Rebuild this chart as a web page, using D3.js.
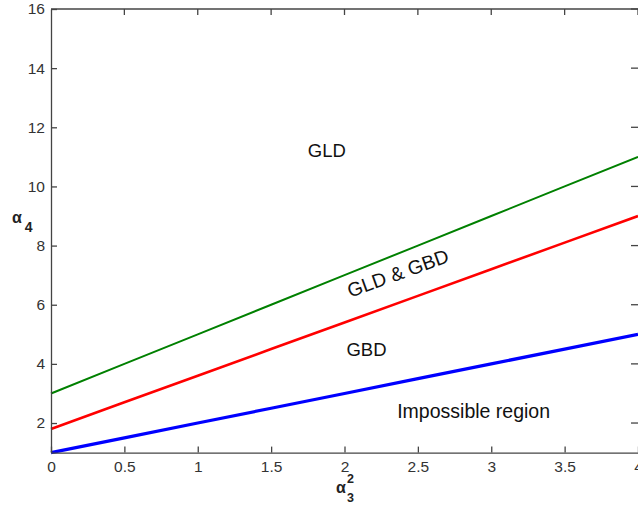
<!DOCTYPE html>
<html>
<head>
<meta charset="utf-8">
<script src="https://cdn.jsdelivr.net/npm/d3@7"></script>
<style>
  html, body { margin: 0; padding: 0; background: #fff; }
  svg { display: block; font-family: "Liberation Sans", Arial, Helvetica, sans-serif; }
</style>
</head>
<body>
<svg id="chart" width="638" height="511"></svg>
<script>
// Boundary curves in the (alpha3^2, alpha4) plane
const alpha3sq = [0, 0.5, 1, 1.5, 2, 2.5, 3, 3.5, 4];
const gldBound = [3, 4, 5, 6, 7, 8, 9, 10, 11];           // green
const gbdBound = [1.8, 2.7, 3.6, 4.5, 5.4, 6.3, 7.2, 8.1, 9]; // red
const limitBound = [1, 1.5, 2, 2.5, 3, 3.5, 4, 4.5, 5];   // blue

const xTicks = [0, 0.5, 1, 1.5, 2, 2.5, 3, 3.5, 4];
const xTickLabels = ["0", "0.5", "1", "1.5", "2", "2.5", "3", "3.5", "4"];
const yTicks = [2, 4, 6, 8, 10, 12, 14, 16];
const yTickLabels = ["2", "4", "6", "8", "10", "12", "14", "16"];

const regionNames = ["GLD", "GLD & GBD", "GBD", "Impossible region"];
const regionAt = [[1.88, 11.0], [2.38, 6.85], [2.15, 4.25], [2.88, 2.17]];

const svg = d3.select("#chart");
const plotLeft = 51, plotRight = 638, plotTop = 9, plotBottom = 452.6;

const x = d3.scaleLinear().domain([0, 4]).range([plotLeft, plotRight]);
const y = d3.scaleLinear().domain([1, 16]).range([plotBottom, plotTop]);

// Curves
const line = d3.line().x(d => x(d[0])).y(d => y(d[1]));
const series = [
  { vals: limitBound, color: "#0000ff", w: 3.2 },
  { vals: gbdBound, color: "#ff0000", w: 2.6 },
  { vals: gldBound, color: "#008000", w: 2.0 }
];
series.forEach(s => {
  svg.append("path")
    .datum(alpha3sq.map((a, i) => [a, s.vals[i]]))
    .attr("d", line)
    .attr("fill", "none")
    .attr("stroke", s.color)
    .attr("stroke-width", s.w);
});

// Axes box with inward ticks
const axisColor = "#444";
const xAxis = d3.axisBottom(x).tickValues(xTicks)
  .tickFormat((d, i) => xTickLabels[i]).tickSizeInner(-6).tickSizeOuter(0).tickPadding(8);
const yAxis = d3.axisLeft(y).tickValues(yTicks)
  .tickFormat((d, i) => yTickLabels[i]).tickSizeInner(-6).tickSizeOuter(0).tickPadding(6);

const gx = svg.append("g").attr("transform", `translate(0,${plotBottom})`).call(xAxis);
const gy = svg.append("g").attr("transform", `translate(${plotLeft},0)`).call(yAxis);
[gx, gy].forEach(g => {
  g.selectAll("path.domain").attr("stroke", axisColor).attr("stroke-width", 1.3);
  g.selectAll(".tick line").attr("stroke", axisColor).attr("stroke-width", 1.3);
  g.selectAll(".tick text").attr("fill", "#333").attr("font-size", 15.5)
    .attr("font-family", "'Liberation Sans', Arial, sans-serif");
});
// top and right box edges with mirrored ticks
svg.append("line").attr("x1", plotLeft).attr("x2", plotRight).attr("y1", plotTop).attr("y2", plotTop)
  .attr("stroke", axisColor).attr("stroke-width", 1.3);
svg.selectAll(".rtick").data(yTicks).enter().append("line")
  .attr("x1", plotRight - 7).attr("x2", plotRight).attr("y1", d => y(d)).attr("y2", d => y(d))
  .attr("stroke", axisColor).attr("stroke-width", 1.3);
svg.selectAll(".ttick").data(xTicks.slice(1)).enter().append("line")
  .attr("x1", d => x(d)).attr("x2", d => x(d)).attr("y1", plotTop).attr("y2", plotTop + 6)
  .attr("stroke", axisColor).attr("stroke-width", 1.3);

// Region labels
regionNames.forEach((name, i) => {
  const [a, b] = regionAt[i];
  const t = svg.append("text")
    .attr("x", x(a)).attr("y", y(b))
    .attr("text-anchor", "middle")
    .attr("font-size", name === "Impossible region" ? 19.5 : (name === "GLD & GBD" ? 19.5 : 18.5))
    .attr("fill", "#111")
    .text(name);
  if (name === "GLD & GBD") {
    t.attr("transform", `rotate(-20,${x(a)},${y(b)})`);
  }
});

// Axis labels: alpha_3 squared (x) and alpha_4 (y)
svg.append("text").attr("x", 336).attr("y", 493)
  .attr("font-size", 16).attr("font-weight", "bold").attr("fill", "#222").text("α");
svg.append("text").attr("x", 347).attr("y", 502)
  .attr("font-size", 12.5).attr("font-weight", "bold").attr("fill", "#222").text("3");
svg.append("text").attr("x", 347).attr("y", 483)
  .attr("font-size", 12.5).attr("font-weight", "bold").attr("fill", "#222").text("2");

const yl = svg.append("text").attr("x", 12).attr("y", 223)
  .attr("font-size", 16).attr("font-weight", "bold").attr("fill", "#222");
yl.append("tspan").text("α");
yl.append("tspan").attr("dx", 3).attr("dy", 9).attr("font-size", 14).text("4");
</script>
</body>
</html>
